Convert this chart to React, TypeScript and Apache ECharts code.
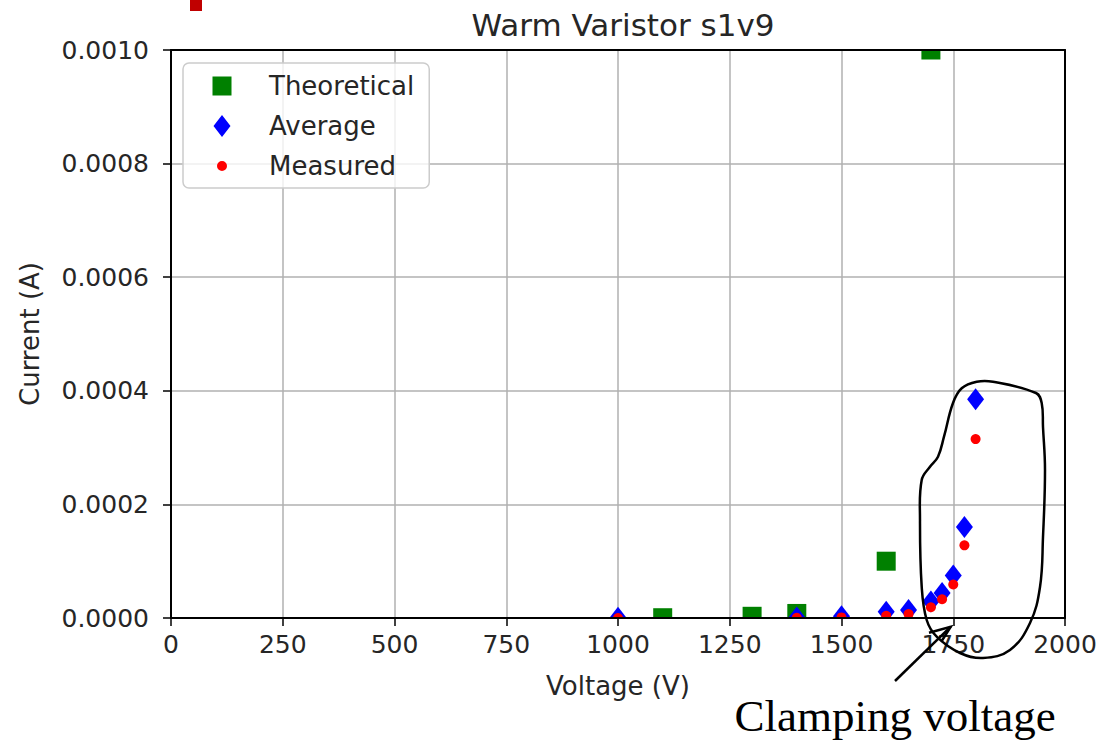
import React, { useEffect, useRef } from "react";
import * as echarts from "echarts";

// ---- data ----
const theoreticalVoltage = [1100, 1300, 1400, 1600, 1700];
const theoreticalCurrent = [0.0000005, 0.000003, 0.000008, 0.0001, 0.001];

const measuredVoltage = [1000, 1400, 1500, 1600, 1650, 1700, 1725, 1750, 1775, 1800];
const averageCurrent = [0.0000005, 0.000001, 0.000003, 0.000011, 0.000014, 0.000029, 0.000044, 0.000075, 0.00016, 0.000385];
const measuredCurrent = [0, 0.0000005, 0.000001, 0.000004, 0.000007, 0.000019, 0.000033, 0.000059, 0.000128, 0.000315];

const seriesNames = ["Theoretical", "Average", "Measured"];
const xTicks = { min: 0, max: 2000, interval: 250 };
const yTicks = { min: 0, max: 0.001, interval: 0.0002 };

const FONT = "DejaVu Sans";
const TXT = "#262626";

const ext = "M0,0L0.01,0L0,0.01Z M22,22L21.99,22L22,21.99Z ";
const icons = [
  "path://" + ext + "M1.5,1.5L20.5,1.5L20.5,20.5L1.5,20.5Z",
  "path://" + ext + "M11,0L19.5,11L11,22L2.5,11Z",
  "path://" + ext + "M6,11A5,5,0,1,0,16,11A5,5,0,1,0,6,11Z",
];

const loopPoints = [
  [961.7, 388.3], [976.7, 381.7], [993, 381.7], [1036, 393], [1041.7, 403], [1043, 427],
  [1045, 470], [1043, 537], [1040, 587], [1030, 623], [1010, 650], [983, 658],
  [960, 653], [936.7, 636.7], [926.7, 620], [921.7, 586.7], [920, 520], [921.7, 480],
  [930, 466.7], [938, 456.7], [944, 436.7], [953, 403],
];

export default function App() {
  const ref = useRef<HTMLDivElement>(null);
  useEffect(() => {
    if (!ref.current) return;
    const chart = echarts.init(ref.current, undefined, { renderer: "svg" });
    const axisLine = { show: true, onZero: false, lineStyle: { color: "#000", width: 2 } };
    const tickLabel = { fontFamily: FONT, fontSize: 25, color: TXT };
    const option: any = {
      animation: false,
      backgroundColor: "#fff",
      title: {
        text: "Warm Varistor s1v9",
        left: 618,
        top: 4,
        textAlign: "center",
        textStyle: { fontFamily: FONT, fontSize: 31, fontWeight: "normal", color: TXT },
      },
      legend: {
        orient: "vertical",
        left: 183,
        top: 63,
        padding: [10, 15, 9, 28],
        itemGap: 14,
        itemWidth: 22,
        itemHeight: 22,
        backgroundColor: "rgba(255,255,255,0.8)",
        borderColor: "#cccccc",
        borderWidth: 1.5,
        borderRadius: 6,
        selectedMode: false,
        textStyle: { fontFamily: FONT, fontSize: 26, color: TXT, lineHeight: 26, padding: [0, 0, 0, 31] },
        data: seriesNames.map((n, i) => ({ name: n, icon: icons[i] })),
      },
      grid: { left: 171, right: 49, top: 50, bottom: 124, show: false },
      xAxis: [
        {
          type: "value", ...xTicks, position: "bottom", z: 10,
          name: "Voltage (V)", nameLocation: "middle", nameGap: 55,
          nameTextStyle: { fontFamily: FONT, fontSize: 26, color: TXT },
          axisLine,
          axisTick: { show: true, length: 8, lineStyle: { color: "#000", width: 1.5 } },
          axisLabel: { ...tickLabel, margin: 14, showMinLabel: true, showMaxLabel: true, formatter: (v: number) => String(v) },
          splitLine: { show: false },
        },
        {
          type: "value", ...xTicks, position: "top", z: 10,
          axisLine, axisTick: { show: false }, axisLabel: { show: false }, splitLine: { show: false },
        },
        {
          type: "value", ...xTicks, position: "bottom", z: 0,
          axisLine: { show: false }, axisTick: { show: false }, axisLabel: { show: false },
          splitLine: { show: true, lineStyle: { color: "#b0b0b0", width: 1.5 } },
        },
      ],
      yAxis: [
        {
          type: "value", ...yTicks, position: "left", z: 10,
          name: "Current (A)", nameLocation: "middle", nameGap: 128, nameRotate: 90,
          nameTextStyle: { fontFamily: FONT, fontSize: 26, color: TXT },
          axisLine,
          axisTick: { show: true, length: 8, lineStyle: { color: "#000", width: 1.5 } },
          axisLabel: { ...tickLabel, margin: 22, formatter: (v: number) => v.toFixed(4), showMinLabel: true, showMaxLabel: true },
          splitLine: { show: false },
        },
        {
          type: "value", ...yTicks, position: "right", z: 10,
          axisLine, axisTick: { show: false }, axisLabel: { show: false }, splitLine: { show: false },
        },
        {
          type: "value", ...yTicks, position: "left", z: 0,
          axisLine: { show: false }, axisTick: { show: false }, axisLabel: { show: false },
          splitLine: { show: true, lineStyle: { color: "#b0b0b0", width: 1.5 } },
        },
      ],
      series: [
        {
          name: seriesNames[0], type: "scatter", xAxisIndex: 0, yAxisIndex: 0,
          symbol: "rect", symbolSize: 19, itemStyle: { color: "#008000", opacity: 1 },
          data: theoreticalVoltage.map((v, i) => [v, theoreticalCurrent[i]]),
        },
        {
          name: seriesNames[1], type: "scatter", xAxisIndex: 0, yAxisIndex: 0,
          symbol: "diamond", symbolSize: [17, 22], itemStyle: { color: "#0000ff", opacity: 1 },
          data: measuredVoltage.map((v, i) => [v, averageCurrent[i]]),
        },
        {
          name: seriesNames[2], type: "scatter", xAxisIndex: 0, yAxisIndex: 0,
          symbol: "circle", symbolSize: 10, itemStyle: { color: "#ff0000", opacity: 1 },
          data: measuredVoltage.map((v, i) => [v, measuredCurrent[i]]),
        },
      ],
      graphic: [
        { type: "rect", z: 5, shape: { x: 172, y: 619, width: 892, height: 13 }, style: { fill: "#fff" } },
        { type: "rect", z: 5, shape: { x: 910, y: 34, width: 45, height: 15 }, style: { fill: "#fff" } },
        { type: "rect", z: 20, shape: { x: 190, y: 0, width: 12, height: 11 }, style: { fill: "#c00000" } },
        {
          type: "polygon", z: 20,
          shape: { points: loopPoints, smooth: 0.4 },
          style: { fill: "none", stroke: "#000", lineWidth: 2.5 },
        },
        { type: "line", z: 20, shape: { x1: 895, y1: 681, x2: 950.7, y2: 626.7 }, style: { stroke: "#000", lineWidth: 2.5 } },
        {
          type: "polyline", z: 20,
          shape: { points: [[929, 632.7], [950.7, 626.7], [941.7, 641]] },
          style: { fill: "none", stroke: "#000", lineWidth: 2.5 },
        },
        {
          type: "text", z: 20, x: 895, y: 716,
          style: {
            text: "Clamping voltage", fontFamily: "Liberation Serif", fontSize: 45,
            fill: "#000", align: "center", verticalAlign: "middle",
          },
        },
      ],
    };
    chart.setOption(option);
    return () => chart.dispose();
  }, []);
  return <div ref={ref} style={{ position: "fixed", left: 0, top: 0, width: 1114, height: 742 }} />;
}
